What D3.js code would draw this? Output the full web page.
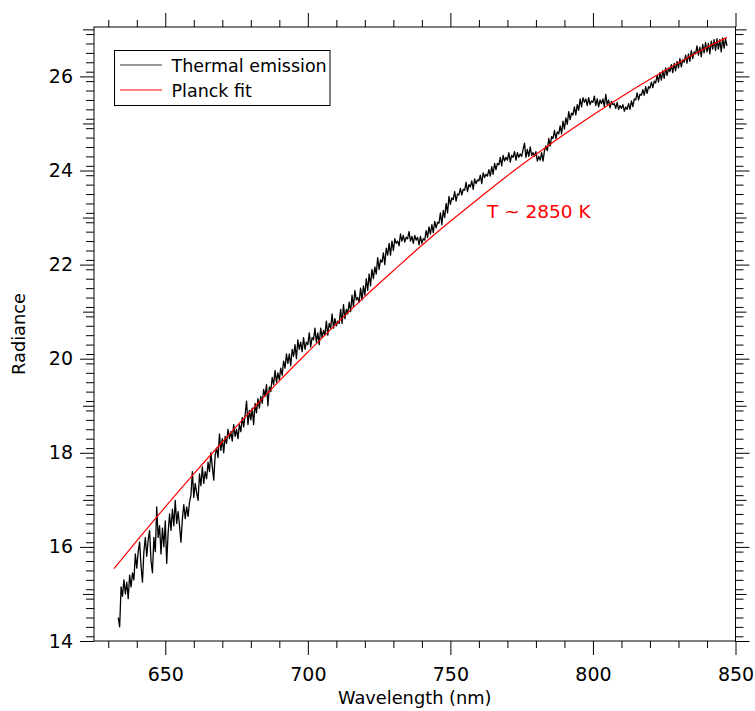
<!DOCTYPE html>
<html>
<head>
<meta charset="utf-8">
<script src="https://cdn.jsdelivr.net/npm/d3@7"></script>
<style>
  html, body { margin: 0; padding: 0; background: #ffffff; }
  svg { display: block; }
  text { font-family: "DejaVu Sans", Verdana, sans-serif; fill: #000; }
</style>
</head>
<body>
<svg id="chart" width="755" height="711"></svg>
<script>
// ---------------- DATA ----------------
// Thermal emission spectrum, sampled every 0.5 nm starting at 633.5 nm
const emissionStart = 633.5;
const emissionStep = 0.5;
const emission = [
  14.5, 14.3, 15.15, 14.95, 15.3, 15.0, 15.25, 14.9, 15.4, 15.15, 15.45, 15.3, 15.85, 15.55, 15.9, 16.1, 15.6, 15.25, 15.9, 16.2,
  15.8, 16.15, 16.35, 15.7, 15.45, 16.2, 15.9, 16.85, 16.2, 16.45, 15.85, 16.4, 16.0, 16.55, 15.65, 16.3, 16.7, 16.35, 16.8, 16.45,
  16.99, 16.5, 16.75, 16.45, 16.1, 16.6, 16.9, 16.6, 16.85, 16.65, 16.95, 17.1, 17.6, 17.05, 17.35, 17.15, 16.99, 17.55, 17.3, 17.7,
  17.35, 17.6, 17.45, 17.8, 17.6, 18.0, 17.7, 17.42, 17.95, 18.1, 17.9, 18.4, 18.05, 18.3, 18.0, 18.35, 18.2, 18.5, 18.3, 18.45,
  18.25, 18.6, 18.35, 18.5, 18.3, 18.6, 18.45, 18.75, 18.55, 18.8, 19.1, 18.6, 18.9, 18.7, 18.95, 18.6, 19.05, 18.85, 19.15, 18.95,
  19.2, 19.05, 19.35, 19.2, 19.45, 19.0, 19.4, 19.3, 19.6, 19.45, 19.75, 19.5, 19.7, 19.55, 19.8, 19.65, 19.95, 19.8, 20.1, 19.9,
  20.1, 19.85, 20.2, 20.05, 20.3, 20.0, 20.4, 20.2, 20.35, 20.15, 20.45, 20.2, 20.35, 20.3, 20.55, 20.25, 20.45, 20.4, 20.65, 20.35,
  20.55, 20.3, 20.65, 20.45, 20.6, 20.5, 20.8, 20.5, 20.75, 20.65, 20.95, 20.65, 20.85, 20.7, 20.8, 20.75, 21.05, 20.75, 21.15, 20.85,
  21.05, 20.95, 21.2, 21.0, 21.35, 21.1, 21.45, 21.25, 21.3, 21.2, 21.5, 21.25, 21.55, 21.35, 21.7, 21.45, 21.8, 21.55, 21.9, 21.7,
  21.95, 21.8, 22.15, 21.9, 22.1, 22.05, 22.25, 22.0, 22.35, 22.2, 22.45, 22.2, 22.5, 22.3, 22.55, 22.45, 22.5, 22.4, 22.65, 22.5,
  22.62, 22.48, 22.58, 22.55, 22.7, 22.5, 22.6, 22.45, 22.62, 22.52, 22.58, 22.42, 22.6, 22.45, 22.55, 22.52, 22.72, 22.58, 22.8, 22.65,
  22.85, 22.68, 22.92, 22.78, 22.9, 22.88, 23.1, 22.85, 23.15, 23.0, 23.3, 23.1, 23.45, 23.28, 23.42, 23.38, 23.55, 23.35, 23.5, 23.48,
  23.62, 23.48, 23.6, 23.58, 23.75, 23.55, 23.7, 23.65, 23.78, 23.6, 23.82, 23.72, 23.8, 23.78, 23.9, 23.72, 23.95, 23.85, 23.92, 23.88,
  24.02, 23.88, 24.08, 23.92, 24.15, 24.02, 24.15, 24.12, 24.28, 24.1, 24.32, 24.2, 24.28, 24.22, 24.38, 24.18, 24.32, 24.28, 24.4, 24.22,
  24.38, 24.28, 24.35, 24.3, 24.45, 24.58, 24.28, 24.45, 24.3, 24.5, 24.32, 24.38, 24.3, 24.4, 24.2, 24.3, 24.22, 24.38, 24.2, 24.42,
  24.52, 24.42, 24.68, 24.52, 24.72, 24.68, 24.85, 24.68, 24.82, 24.78, 24.95, 24.78, 25.05, 24.88, 25.12, 24.98, 25.25, 25.08, 25.22, 25.18,
  25.35, 25.18, 25.4, 25.28, 25.52, 25.35, 25.55, 25.45, 25.52, 25.38, 25.55, 25.4, 25.48, 25.45, 25.58, 25.38, 25.52, 25.35, 25.5, 25.42,
  25.52, 25.36, 25.62, 25.4, 25.5, 25.33, 25.47, 25.4, 25.42, 25.32, 25.45, 25.3, 25.38, 25.32, 25.4, 25.26, 25.35, 25.3, 25.42, 25.3,
  25.48, 25.36, 25.52, 25.5, 25.65, 25.5, 25.62, 25.6, 25.72, 25.6, 25.78, 25.64, 25.78, 25.75, 25.88, 25.76, 25.9, 25.86, 26.02, 25.88,
  26.08, 25.92, 26.12, 25.96, 26.18, 26.02, 26.18, 26.1, 26.25, 26.08, 26.28, 26.12, 26.32, 26.18, 26.38, 26.2, 26.35, 26.3, 26.45, 26.28,
  26.48, 26.32, 26.55, 26.38, 26.52, 26.48, 26.65, 26.45, 26.62, 26.42, 26.68, 26.5, 26.72, 26.52, 26.7, 26.48, 26.75, 26.58, 26.78, 26.55,
  26.8, 26.58, 26.78, 26.52, 26.82, 26.6, 26.8, 26.65
];

// Planck fit curve
const fitWavelengths = [632, 640, 650, 660, 670, 680, 690, 700, 710, 720, 730, 740, 750, 760, 770, 780, 790, 800, 810, 820, 830, 840, 847];
const fitRadiance = [15.54, 16.13, 16.85, 17.55, 18.23, 18.89, 19.53, 20.14, 20.74, 21.32, 21.87, 22.41, 22.92, 23.41, 23.89, 24.34, 24.77, 25.18, 25.57, 25.94, 26.29, 26.62, 26.83];

// Axis ticks
const xMajorTicks = [650, 700, 750, 800, 850];
const xMinorTicks = [630, 640, 660, 670, 680, 690, 710, 720, 730, 740, 760, 770, 780, 790, 810, 820, 830, 840];
const yMajorTicks = [14, 16, 18, 20, 22, 24, 26];
const yMediumTicks = [15, 17, 19, 21, 23, 25, 27];

const seriesNames = ["Thermal emission", "Planck fit"];
const seriesColors = ["#000000", "#ff0000"];
const annotationText = "T ~ 2850 K";
const xTitle = "Wavelength (nm)";
const yTitle = "Radiance";

// ---------------- CHART ----------------
(function () {
const svg = d3.select("#chart");
const mLeft = 94, mRight = 735.5, mTop = 27, mBottom = 641;

const x = d3.scaleLinear().domain([625, 850]).range([mLeft, mRight]);
const y = d3.scaleLinear().domain([14, 27.05]).range([mBottom, mTop]);

// minor y ticks every 0.2
const yMinorTicks = d3.range(141, 271, 2).map(v => v / 10).filter(v => Math.abs(v - Math.round(v)) > 1e-6);

function styleAxis(g) {
  g.select(".domain").remove();
  g.selectAll(".tick line").attr("stroke", "#000").attr("stroke-width", 1);
}

// Bottom axis
svg.append("g").attr("transform", `translate(0,${mBottom})`)
  .call(d3.axisBottom(x).tickValues(xMinorTicks).tickSize(7).tickFormat(""))
  .call(styleAxis);
svg.append("g").attr("transform", `translate(0,${mBottom})`)
  .call(d3.axisBottom(x).tickValues(xMajorTicks).tickSize(14).tickPadding(13).tickFormat(d3.format("d")))
  .call(styleAxis)
  .call(g => g.selectAll("text").attr("font-size", 19).attr("font-family", "DejaVu Sans"));

// Top axis
svg.append("g").attr("transform", `translate(0,${mTop})`)
  .call(d3.axisTop(x).tickValues(xMinorTicks).tickSize(7).tickFormat(""))
  .call(styleAxis);
svg.append("g").attr("transform", `translate(0,${mTop})`)
  .call(d3.axisTop(x).tickValues(xMajorTicks).tickSize(14).tickFormat(""))
  .call(styleAxis);

// Left axis
svg.append("g").attr("transform", `translate(${mLeft},0)`)
  .call(d3.axisLeft(y).tickValues(yMinorTicks).tickSize(8).tickFormat(""))
  .call(styleAxis);
svg.append("g").attr("transform", `translate(${mLeft},0)`)
  .call(d3.axisLeft(y).tickValues(yMediumTicks.filter(v => v <= 27)).tickSize(11).tickFormat(""))
  .call(styleAxis);
svg.append("g").attr("transform", `translate(${mLeft},0)`)
  .call(d3.axisLeft(y).tickValues(yMajorTicks).tickSize(14).tickPadding(7).tickFormat(d3.format("d")))
  .call(styleAxis)
  .call(g => g.selectAll("text").attr("font-size", 19).attr("font-family", "DejaVu Sans"));

// Right axis
svg.append("g").attr("transform", `translate(${mRight},0)`)
  .call(d3.axisRight(y).tickValues(yMinorTicks).tickSize(8).tickFormat(""))
  .call(styleAxis);
svg.append("g").attr("transform", `translate(${mRight},0)`)
  .call(d3.axisRight(y).tickValues(yMediumTicks.filter(v => v <= 27)).tickSize(11).tickFormat(""))
  .call(styleAxis);
svg.append("g").attr("transform", `translate(${mRight},0)`)
  .call(d3.axisRight(y).tickValues(yMajorTicks).tickSize(14).tickFormat(""))
  .call(styleAxis);

// Frame
svg.append("rect")
  .attr("x", mLeft).attr("y", mTop)
  .attr("width", mRight - mLeft).attr("height", mBottom - mTop)
  .attr("fill", "none").attr("stroke", "#000").attr("stroke-width", 1);

// Thermal emission line
const emissionData = emission.map((v, i) => ({ wl: emissionStart + i * emissionStep, v }));
svg.append("path")
  .datum(emissionData)
  .attr("fill", "none")
  .attr("stroke", seriesColors[0])
  .attr("stroke-width", 1.3)
  .attr("stroke-linejoin", "round")
  .attr("d", d3.line().x(d => x(d.wl)).y(d => y(d.v)));

// Planck fit line
const fitData = fitWavelengths.map((wl, i) => ({ wl, v: fitRadiance[i] }));
svg.append("path")
  .datum(fitData)
  .attr("fill", "none")
  .attr("stroke", seriesColors[1])
  .attr("stroke-width", 1.2)
  .attr("d", d3.line().curve(d3.curveNatural).x(d => x(d.wl)).y(d => y(d.v)));

// Annotation
svg.append("text")
  .attr("x", 487).attr("y", 217.5)
  .attr("font-size", 18.5)
  .style("fill", "#ff0000")
  .text(annotationText);

// Legend
const legend = svg.append("g");
legend.append("rect")
  .attr("x", 114.5).attr("y", 50.5).attr("width", 215.5).attr("height", 55)
  .attr("fill", "#fff").attr("stroke", "#000").attr("stroke-width", 1);
seriesNames.forEach((name, i) => {
  const cy = 65 + i * 25;
  legend.append("line")
    .attr("x1", 120).attr("x2", 162).attr("y1", cy).attr("y2", cy)
    .attr("stroke", seriesColors[i]).attr("stroke-width", i === 0 ? 0.8 : 1);
  legend.append("text")
    .attr("x", 171.5).attr("y", 71.5 + i * 25)
    .attr("font-size", 17.5)
    .text(name);
});

// Axis titles
svg.append("text")
  .attr("x", (mLeft + mRight) / 2).attr("y", 704)
  .attr("text-anchor", "middle")
  .attr("font-size", 17.8)
  .text(xTitle);
svg.append("text")
  .attr("transform", `translate(25,${(mTop + mBottom) / 2}) rotate(-90)`)
  .attr("text-anchor", "middle")
  .attr("font-size", 17.8)
  .text(yTitle);
})();
</script>
</body>
</html>
